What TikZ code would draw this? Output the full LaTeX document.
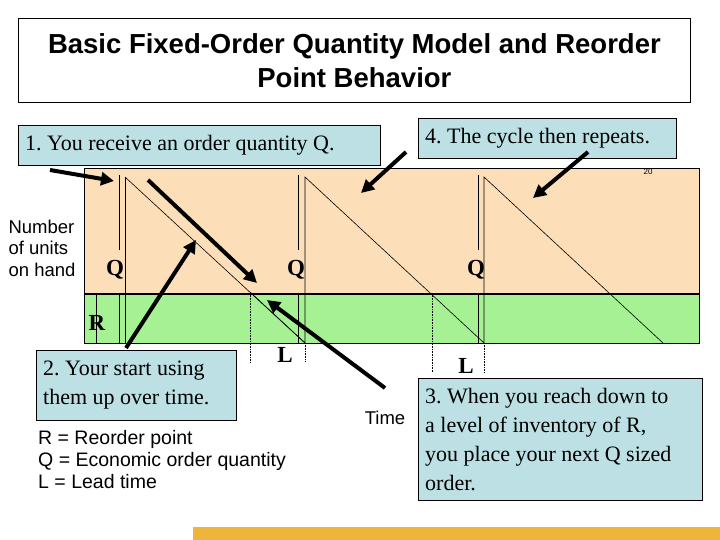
\documentclass[tikz,border=0pt]{standalone}
\usepackage{fontspec}
\setmainfont{Liberation Serif}
\setsansfont{Liberation Sans}
\usetikzlibrary{arrows.meta}
\frenchspacing
\definecolor{peach}{HTML}{FCDFB8}
\definecolor{lgreen}{HTML}{A6F193}
\definecolor{lblue}{HTML}{BCE0E4}
\definecolor{gold}{HTML}{EFB43A}
\tikzset{
  callout/.style={draw=black,fill=lblue,font=\fontsize{22}{26}\selectfont,align=flush left,inner xsep=7pt,inner ysep=4pt,text width=#1},
  big/.style={line width=4pt,-{Triangle[length=13pt,width=13pt]}},
  thin/.style={line width=0.6pt},
  dots/.style={densely dotted,line width=0.6pt},
  qlab/.style={font=\fontsize{23}{26}\selectfont\bfseries,inner sep=1pt},
  side/.style={font=\sffamily\fontsize{18.5}{21.5}\selectfont,align=left,inner sep=0pt}
}
\begin{document}
\begin{tikzpicture}[x=1pt,y=-1pt]
\useasboundingbox (0,0) rectangle (720,540);
% title
\node[draw,line width=0.8pt,minimum width=672pt,minimum height=84pt,anchor=north west,align=center,font=\sffamily\bfseries\fontsize{27.5}{34}\selectfont] (title) at (18,18) {Basic Fixed-Order Quantity Model and Reorder\\Point Behavior};
% bands
\fill[peach] (84,168) rectangle (699,293);
\fill[lgreen] (84,294) rectangle (699,343);
\draw[thin] (84,168) rectangle (699,293);
\draw[thin] (84,294) rectangle (699,343);
% sawtooth
\draw[thin] (125,177) -- (305,343) -- (305,177) -- (484,343) -- (484,177) -- (663,343);
\draw[thin] (125,177) -- (125,343);
\draw[thin] (250,292) -- (305,343);
% Q lines
\foreach \x in {119,298,478}{\draw[thin] (\x,175) -- (\x,250); \draw[thin] (\x,293) -- (\x,343);}
\draw[thin] (96,293) -- (96,343);
% dotted
\draw[dots] (250,293) -- (250,362);
\draw[dots] (305,343) -- (305,362);
\draw[dots] (432,293) -- (432,372);
\draw[dots] (484,343) -- (484,372);
% labels
\node[qlab] (q1) at (115,270) {Q};
\node[qlab] (q2) at (296,270) {Q};
\node[qlab] (q3) at (476,270) {Q};
\node[qlab] (r) at (97,323) {R};
\node[qlab] (l1) at (285,355) {L};
\node[qlab] (l2) at (466,366) {L};
\node[font=\sffamily\fontsize{8}{9}\selectfont] (n20) at (648,172) {20};
\node[fill=white,side,inner sep=2pt] (nu) at (42,248) {Number\\of units\\on hand};
\node[side] (time) at (385,418) {Time};
\node[side,anchor=north west,font=\sffamily\fontsize{19.5}{22}\selectfont] (leg) at (38,430) {R = Reorder point\\Q = Economic order quantity\\L = Lead time};
% callouts
\node[callout=348pt,anchor=north west,minimum height=40pt] (b1) at (18,125) {1. You receive an order quantity Q.};
\node[callout=244pt,anchor=north west,minimum height=40pt] (b4) at (418,118) {4. The cycle then repeats.};
\node[callout=186pt,anchor=north west,minimum height=70pt,font=\fontsize{22}{29}\selectfont] (b2) at (36,350) {2. Your start using\\them up over time.};
\node[callout=270pt,anchor=north west,minimum height=122pt,font=\fontsize{22}{29}\selectfont] (b3) at (418,378) {3. When you reach down to\\a level of inventory of R,\\you place your next Q sized\\order.};
% arrows
\coordinate (a1s) at (50,170); \coordinate (a1e) at (114,181);
\coordinate (a2s) at (126,348); \coordinate (a2e) at (196,240);
\coordinate (a5s) at (148,180); \coordinate (a5e) at (257,283);
\coordinate (a3s) at (385,388); \coordinate (a3e) at (267,300);
\coordinate (a4s) at (406,152); \coordinate (a4e) at (361,193);
\coordinate (a6s) at (588,152); \coordinate (a6e) at (533,198);
\foreach \s/\e in {a1s/a1e,a2s/a2e,a5s/a5e,a3s/a3e,a4s/a4e,a6s/a6e}{\draw[big] (\s) -- (\e);}
% bottom bar
\fill[gold] (193,527) rectangle (720,540);
\end{tikzpicture}
\end{document}
